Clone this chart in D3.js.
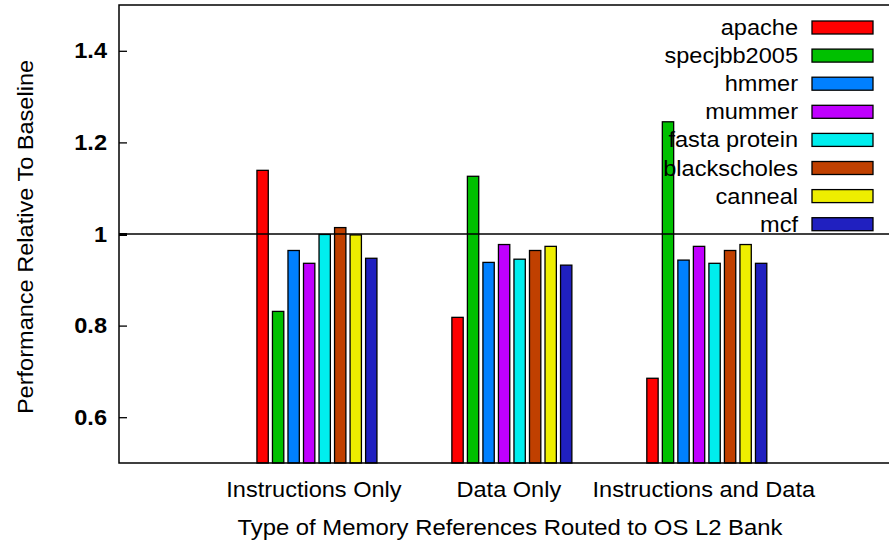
<!DOCTYPE html>
<html>
<head>
<meta charset="utf-8">
<script src="https://cdn.jsdelivr.net/npm/d3@7"></script>
<style>
  body { margin: 0; background: #fff; }
  svg { display: block; font-family: "Liberation Sans", Arial, sans-serif; }
</style>
</head>
<body>
<div id="chart"></div>
<script>
// categories and series
const groups = ["Instructions Only", "Data Only", "Instructions and Data"];
const benchmarks = ["apache", "specjbb2005", "hmmer", "mummer", "fasta protein", "blackscholes", "canneal", "mcf"];
const colors = ["#ff0000", "#00c000", "#0080ff", "#c000ff", "#00eeee", "#c04000", "#eeee00", "#2020c0"];

// values per benchmark, one per group
const apache = [1.139, 0.818, 0.685];
const specjbb2005 = [0.831, 1.126, 1.245];
const hmmer = [0.964, 0.938, 0.943];
const mummer = [0.936, 0.977, 0.973];
const fasta = [0.999, 0.945, 0.936];
const blackscholes = [1.014, 0.964, 0.964];
const canneal = [0.998, 0.973, 0.977];
const mcf = [0.947, 0.932, 0.936];
const series = [apache, specjbb2005, hmmer, mummer, fasta, blackscholes, canneal, mcf];

const yTicks = [0.6, 0.8, 1, 1.2, 1.4];

const W = 889, H = 546;
const plot = { left: 119, right: 889, top: 5, bottom: 463 };
const FONT = 22, STRETCH = 1.07;

const svg = d3.select("#chart").append("svg")
    .attr("width", W).attr("height", H);

// widen text a little, the original font runs wider than Liberation Sans
function widen(sel) {
    sel.each(function() {
        const w = this.getComputedTextLength();
        d3.select(this).attr("textLength", w * STRETCH).attr("lengthAdjust", "spacingAndGlyphs");
    });
}

const y = d3.scaleLinear().domain([0.5, 1.5]).range([plot.bottom, plot.top]);
// group centres sit at 1, 2, 3
const x = d3.scaleLinear().domain([0, 3.95]).range([plot.left, plot.right]);
const inner = d3.scaleBand().domain(d3.range(benchmarks.length))
    .range([-57, 63]).paddingInner(0.27).paddingOuter(0);

// bars
groups.forEach((g, gi) => {
    svg.append("g").selectAll("rect")
        .data(series.map((s, i) => ({ i: i, v: s[gi] })))
        .enter().append("rect")
        .attr("x", d => x(gi + 1) + inner(d.i))
        .attr("width", inner.bandwidth())
        .attr("y", d => y(d.v))
        .attr("height", d => y(0.5) - y(d.v))
        .attr("fill", d => colors[d.i])
        .attr("stroke", "#000")
        .attr("stroke-width", 1.3);
});

// frame: left, top, bottom
svg.append("path")
    .attr("d", `M${plot.right},${plot.top}H${plot.left}V${plot.bottom}H${plot.right}`)
    .attr("fill", "none").attr("stroke", "#000").attr("stroke-width", 1.5);

// baseline at 1
svg.append("line")
    .attr("x1", plot.left).attr("x2", plot.right)
    .attr("y1", y(1)).attr("y2", y(1))
    .attr("stroke", "#000").attr("stroke-width", 1.3);

// y axis, ticks pointing inward
const yAxis = d3.axisLeft(y).tickValues(yTicks).tickSize(-8).tickPadding(12)
    .tickFormat(d => d === 1 ? "1" : d3.format(".1f")(d));
const ya = svg.append("g").attr("transform", `translate(${plot.left},0)`).call(yAxis);
ya.select(".domain").remove();
ya.selectAll(".tick line").attr("stroke", "#000").attr("stroke-width", d => d === 1 ? 3 : 1.3);
ya.selectAll(".tick text")
    .attr("font-size", FONT).attr("fill", "#000")
    .attr("font-family", "Liberation Sans, Arial, sans-serif")
    .style("font-weight", "bold")
    .call(widen);

// category labels
svg.append("g").selectAll("text")
    .data(groups).enter().append("text")
    .attr("x", (d, i) => x(i + 1))
    .attr("y", 497)
    .attr("text-anchor", "middle")
    .attr("font-size", FONT)
    .text(d => d)
    .call(widen);

// axis titles
svg.append("text")
    .attr("x", 510).attr("y", 535)
    .attr("text-anchor", "middle")
    .attr("font-size", FONT)
    .attr("textLength", 545).attr("lengthAdjust", "spacingAndGlyphs")
    .text("Type of Memory References Routed to OS L2 Bank");

svg.append("text")
    .attr("transform", "translate(33,237) rotate(-90)")
    .attr("text-anchor", "middle")
    .attr("font-size", FONT)
    .text("Performance Relative To Baseline")
    .call(widen);

// legend
const legend = svg.append("g").selectAll("g")
    .data(benchmarks).enter().append("g")
    .attr("transform", (d, i) => `translate(0,${27.5 + i * 28.1})`);

legend.append("rect")
    .attr("x", 812).attr("y", -6.5)
    .attr("width", 61).attr("height", 13)
    .attr("fill", (d, i) => colors[i])
    .attr("stroke", "#000").attr("stroke-width", 1.3);

legend.append("text")
    .attr("x", 798).attr("y", 7.5)
    .attr("text-anchor", "end")
    .attr("font-size", FONT)
    .text(d => d)
    .call(widen);
</script>
</body>
</html>
